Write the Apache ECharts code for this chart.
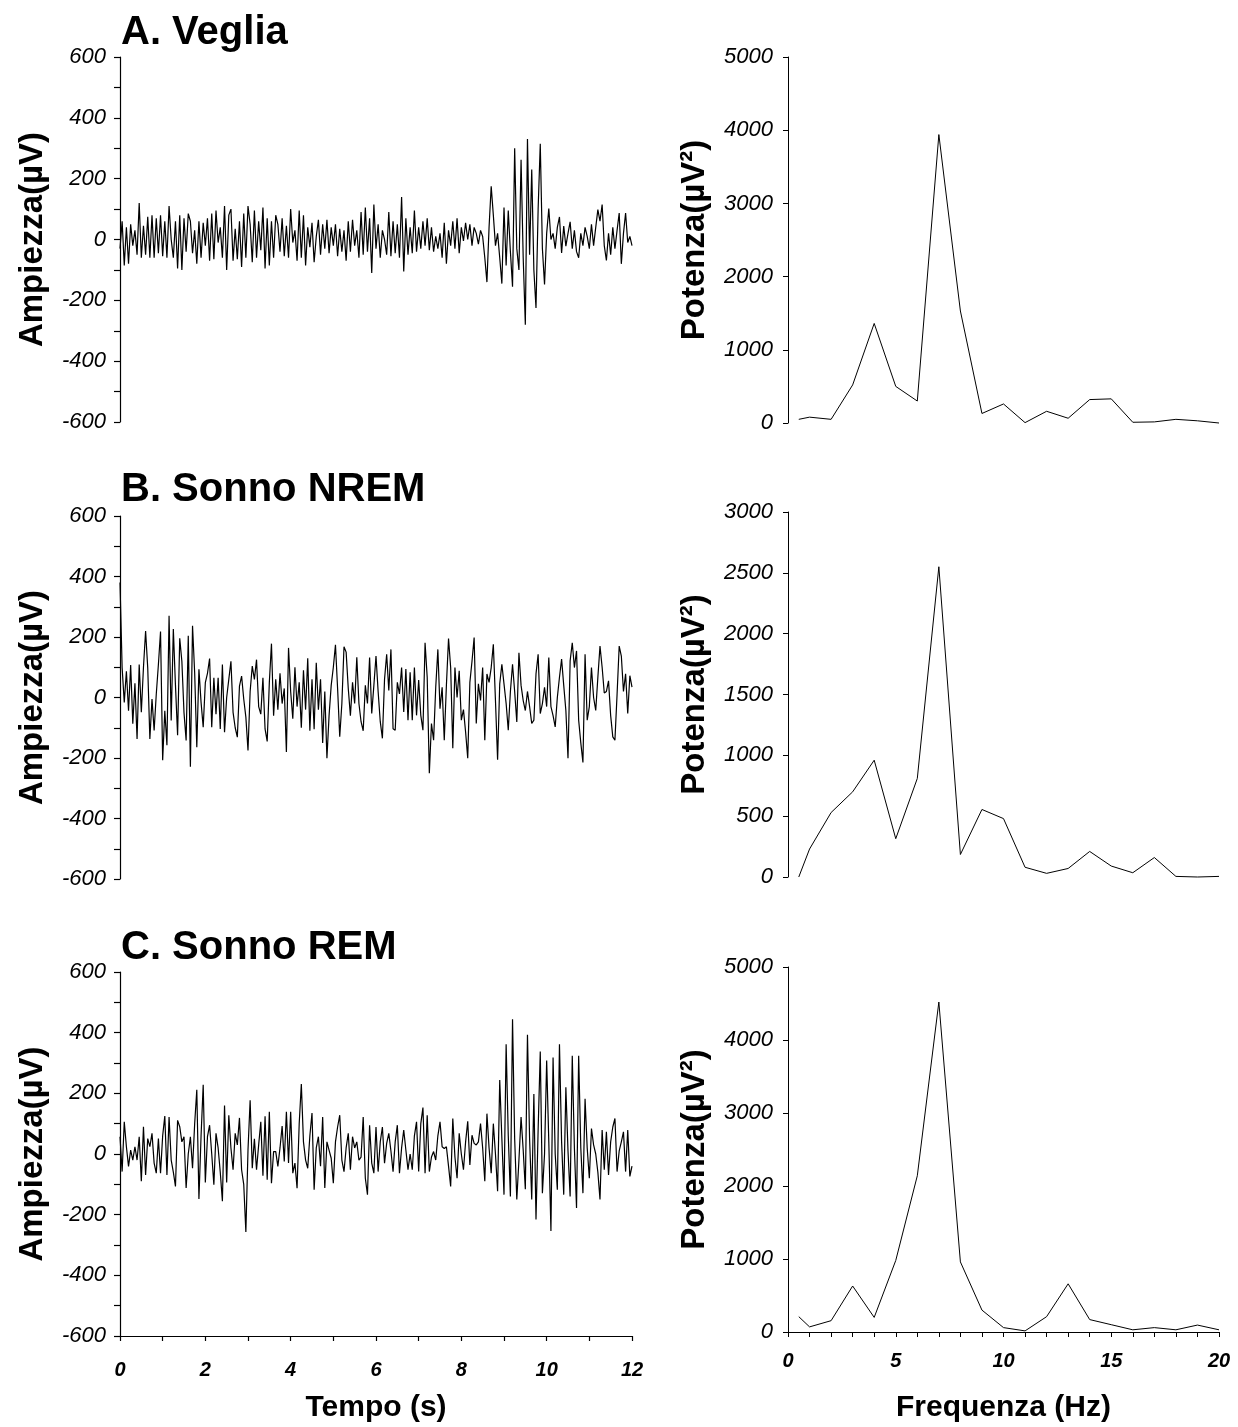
<!DOCTYPE html>
<html>
<head>
<meta charset="utf-8">
<title>EEG: Veglia, Sonno NREM, Sonno REM</title>
<script src="https://cdn.jsdelivr.net/npm/echarts@6/dist/echarts.min.js"></script>
<style>
  html, body { margin: 0; padding: 0; background: #fff; }
  #chart { width: 1238px; height: 1427px; }
</style>
</head>
<body>
<div id="chart"></div>
<script>
// EEG traces: one sample every 0.05 s, from 0 to 12 s (µV)
const sampleStep = 0.05;

const wakeTrace = [
  -30, 60, -85, 40, -80, 50, -20, 30, -50, 120, -60, 45, -50, 75, -60, 80, -60, 70, -45, 80,
  -55, 60, -60, 110, 0, -60, 60, -95, 80, -100, 70, -40, 85, 60, -45, 30, -80, 60, -60, 55,
  -20, 70, -70, 85, -65, 95, -10, 40, -60, 110, -100, 80, 100, -70, 35, -65, 60, -90, 85, -60,
  110, 50, -75, 95, -60, 60, -35, 105, -95, 70, -85, 60, -60, 80, 50, -40, 70, -55, 45, -60,
  100, -10, 30, -70, 95, -60, 80, -85, 40, -25, 55, -75, 10, 65, -50, 50, -30, 65, -45, 40,
  -20, 50, -55, 35, -40, 30, -70, 60, -40, 65, -20, 30, -60, 90, -50, 105, -40, 70, -110, 115,
  -30, 50, -60, 30, 0, -50, 90, -55, 60, -45, 50, -60, 140, -105, 70, -50, 40, -45, 95, -40,
  40, -30, 60, -20, 70, -35, 40, -40, 10, -30, 20, -60, 55, -80, 30, -20, 60, -30, 70, -45,
  40, -5, 55, 0, 50, -20, 40, 20, -15, 30, 10, -60, -140, 40, 175, 80, -20, 20, -60, -145,
  105, -85, 95, -40, -155, 300, -30, -100, 262, -60, -280, 330, -50, 230, -100, -225, 100, 315, -30, -148,
  20, 102, 0, 20, -30, 40, 74, -44, 44, -22, 20, 58, -30, 30, -40, -60, 20, -20, 40, 10,
  -30, 50, -20, 40, 98, 60, 115, -20, -69, 20, -50, 40, -30, 30, 87, -80, 20, 87, -10, 10,
  -20
];

const nremTrace = [
  380, 98, -16, 87, -44, 107, -87, 47, -137, 109, -49, 100, 220, 98, -137, -5, -109, 11, 109, 218,
  -207, -44, -158, 270, -76, 226, 40, -125, 196, 120, -50, -142, 204, -229, 237, 82, -164, 93, -16, -98,
  49, 80, 129, -98, 65, -55, 65, -104, 109, -115, 0, 60, 120, -49, -100, -131, 38, 71, -5, -65,
  -175, 20, 104, 60, 125, -30, -55, 65, -104, -145, 50, 178, -60, 60, -40, 80, -20, 30, -180, 164,
  20, -70, 100, -30, 50, -100, 90, -40, 130, -110, 60, -105, 115, -40, 60, -150, 20, -201, -60, 40,
  100, 174, 30, -130, -20, 168, 150, 30, -60, 50, -20, 133, -20, -80, -110, 40, -20, 132, -53, 40,
  137, 20, -80, -135, 60, 143, 23, 159, -103, -108, 50, 12, 99, -48, 94, -75, 83, -75, 99, -59,
  58, -59, -108, 181, 67, -250, -86, -141, 34, 159, -37, 34, -141, 40, 195, 99, -168, 99, 0, 88,
  -75, -40, -114, -201, 50, 120, 198, -86, 45, -10, 99, -141, 78, 50, 99, 176, -10, -206, 45, 110,
  45, -20, -108, 20, 110, 20, -81, 148, 40, -10, -43, 20, -30, -86, -75, 78, 143, -53, -20, 34,
  -30, 132, -30, -60, -97, 0, 67, 127, 40, -43, -201, 121, 181, 99, 154, -75, -150, -215, 143, -75,
  -30, 99, 0, -43, 67, 170, 100, 15, 20, 55, -60, -130, -141, 10, 170, 137, 20, 78, -53, 72,
  34
];

const remTrace = [
  57, -58, 106, 24, -41, 13, -20, 24, -20, 57, -90, 90, -69, 51, 24, 68, -30, -63, 51, -63,
  60, 125, -69, 122, -20, -60, -107, 111, 90, 40, 57, -112, 0, 57, -47, 100, 212, -148, 60, 228,
  -94, 57, 95, 0, -101, 68, 20, -60, -156, 160, -94, 128, 20, -52, 68, 30, 119, -52, -100, -257,
  13, 177, -47, 50, -52, 30, 106, -72, 124, -85, 139, -96, 8, 8, -41, 20, 92, -25, 139, -30,
  139, -63, -30, -113, 100, 231, 40, -20, -47, 60, 135, -118, 20, 57, -40, 122, -112, 40, 13, -14,
  -96, 40, 89, 128, -20, -58, 20, 68, -52, 57, 20, 40, -20, -10, 122, -80, -134, 95, -30, -63,
  89, -58, 40, 89, -30, 35, 68, 10, -58, 40, 95, -63, 20, 79, 13, -52, 0, -52, 60, 106,
  -58, 100, 153, -63, 128, -58, -10, 8, -20, 60, 106, 24, 18, 24, -40, -107, 117, -10, -80, 68,
  0, -52, 40, 108, -36, 62, 35, 30, 40, 100, 20, -90, 133, 20, -63, 100, 0, -123, 244, 50,
  -134, 362, 60, -140, 444, 50, -150, -20, 122, 13, -116, 393, 50, -150, 198, -216, 80, 338, -129, 0,
  308, 40, -254, 318, 0, -118, 362, 40, -134, 220, 10, -140, 324, 20, -178, 324, 20, -129, 182, 20,
  -80, 84, 30, 0, -60, -150, 79, -52, 73, -69, 40, 89, 117, -58, 10, 40, 73, -58, 79, -74,
  -40
];

// Power spectra (µV²) at each frequency bin (Hz)
const freqBins = [0.5, 1, 2, 3, 4, 5, 6, 7, 8, 9, 10, 11, 12, 13, 14, 15, 16, 17, 18, 19, 20];
const wakePower = [50, 80, 50, 520, 1360, 500, 300, 3940, 1530, 130, 260, 5, 160, 65, 320, 330, 10, 15, 50, 30, 0];
const nremPower = [0, 230, 530, 700, 960, 315, 810, 2550, 185, 555, 480, 80, 30, 70, 210, 90, 35, 160, 5, 0, 5];
const remPower = [210, 70, 155, 630, 200, 980, 2140, 4520, 960, 300, 60, 15, 210, 660, 170, 100, 30, 60, 30, 95, 30];

// Axis tick values
const timeTicks = { min: 0, max: 12, step: 2 };
const ampTicks = { min: -600, max: 600, step: 200 };
const freqTicks = { min: 0, max: 20, step: 5 };
const powerTicksA = { min: 0, max: 5000, step: 1000 };
const powerTicksB = { min: 0, max: 3000, step: 500 };
const powerTicksC = { min: 0, max: 5000, step: 1000 };

const panelTitles = ['A. Veglia', 'B. Sonno NREM', 'C. Sonno REM'];

const FONT = '"Liberation Sans", Arial, Helvetica, sans-serif';
const INK = '#000';
const plain = v => String(v);

function toPairs(values, step) {
  return values.map((v, i) => [+(i * step).toFixed(2), v]);
}

const grids = [
  { left: 120, top: 57, width: 512, height: 365 },
  { left: 120, top: 516, width: 512, height: 363 },
  { left: 120, top: 972, width: 512, height: 364 },
  { left: 788, top: 57, width: 431, height: 366 },
  { left: 788, top: 512, width: 431, height: 365 },
  { left: 788, top: 967, width: 431, height: 365 }
];

function timeAxis(gridIndex, visible) {
  return {
    type: 'value', gridIndex, min: timeTicks.min, max: timeTicks.max, interval: timeTicks.step,
    show: visible,
    axisLine: { show: true, onZero: false, lineStyle: { color: INK, width: 1.2 } },
    axisTick: { show: true, inside: false, length: 5, lineStyle: { color: INK, width: 1.2 } },
    minorTick: { show: true, splitNumber: 2, length: 5, lineStyle: { color: INK, width: 1.2 } },
    splitLine: { show: false },
    axisLabel: { margin: 24, formatter: plain, fontFamily: FONT, fontSize: 20, fontWeight: 'bold', fontStyle: 'italic', color: INK },
    name: visible ? 'Tempo (s)' : '',
    nameLocation: 'middle', nameGap: 57,
    nameTextStyle: { fontFamily: FONT, fontSize: 30, fontWeight: 'bold', color: INK }
  };
}

function freqAxis(gridIndex, visible) {
  return {
    type: 'value', gridIndex, min: freqTicks.min, max: freqTicks.max, interval: freqTicks.step,
    show: visible,
    axisLine: { show: true, onZero: false, lineStyle: { color: INK, width: 1.2 } },
    axisTick: { show: true, inside: false, length: 5, lineStyle: { color: INK, width: 1 } },
    minorTick: { show: true, splitNumber: 5, length: 5, lineStyle: { color: INK, width: 1 } },
    splitLine: { show: false },
    axisLabel: { margin: 19, formatter: plain, fontFamily: FONT, fontSize: 20, fontWeight: 'bold', fontStyle: 'italic', color: INK },
    name: visible ? 'Frequenza (Hz)' : '',
    nameLocation: 'middle', nameGap: 61,
    nameTextStyle: { fontFamily: FONT, fontSize: 30, fontWeight: 'bold', color: INK }
  };
}

function ampAxis(gridIndex) {
  return {
    type: 'value', gridIndex, min: ampTicks.min, max: ampTicks.max, interval: ampTicks.step,
    axisLine: { show: true, onZero: false, lineStyle: { color: INK, width: 1.2 } },
    axisTick: { show: true, inside: false, length: 6, lineStyle: { color: INK, width: 1.2 } },
    minorTick: { show: true, splitNumber: 2, length: 6, lineStyle: { color: INK, width: 1.2 } },
    splitLine: { show: false },
    axisLabel: { margin: 14, formatter: plain, fontFamily: FONT, fontSize: 22, fontStyle: 'italic', color: INK },
    name: 'Ampiezza(µV)', nameLocation: 'middle', nameGap: 71, nameRotate: 90,
    nameTextStyle: { fontFamily: FONT, fontSize: 33, fontWeight: 'bold', color: INK }
  };
}

function powerAxis(gridIndex, ticks) {
  return {
    type: 'value', gridIndex, min: ticks.min, max: ticks.max, interval: ticks.step,
    axisLine: { show: true, onZero: false, lineStyle: { color: INK, width: 1 } },
    axisTick: { show: true, inside: false, length: 5, lineStyle: { color: INK, width: 1 } },
    splitLine: { show: false },
    axisLabel: { margin: 15, formatter: plain, fontFamily: FONT, fontSize: 22, fontStyle: 'italic', color: INK },
    name: 'Potenza(µV²)', nameLocation: 'middle', nameGap: 77, nameRotate: 90,
    nameTextStyle: { fontFamily: FONT, fontSize: 33, fontWeight: 'bold', color: INK }
  };
}

function lineSeries(axisIndex, data, width) {
  return {
    type: 'line', xAxisIndex: axisIndex, yAxisIndex: axisIndex, data,
    showSymbol: false, symbol: 'none', smooth: false, silent: true,
    lineStyle: { color: INK, width }, clip: false
  };
}

const titleY = [35, 492, 950];

const option = {
  animation: false,
  backgroundColor: '#fff',
  grid: grids,
  xAxis: [
    timeAxis(0, false), timeAxis(1, false), timeAxis(2, true),
    freqAxis(3, false), freqAxis(4, false), freqAxis(5, true)
  ],
  yAxis: [
    ampAxis(0), ampAxis(1), ampAxis(2),
    powerAxis(3, powerTicksA), powerAxis(4, powerTicksB), powerAxis(5, powerTicksC)
  ],
  series: [
    lineSeries(0, toPairs(wakeTrace, sampleStep), 1.2),
    lineSeries(1, toPairs(nremTrace, sampleStep), 1.2),
    lineSeries(2, toPairs(remTrace, sampleStep), 1.2),
    lineSeries(3, freqBins.map((f, i) => [f, wakePower[i]]), 1),
    lineSeries(4, freqBins.map((f, i) => [f, nremPower[i]]), 1),
    lineSeries(5, freqBins.map((f, i) => [f, remPower[i]]), 1)
  ],
  graphic: panelTitles.map((t, i) => ({
    type: 'text', left: 121, top: titleY[i] - 22, silent: true,
    style: { text: t, font: 'bold 40px ' + FONT, fill: INK }
  }))
};

const chart = echarts.init(document.getElementById('chart'), null, { renderer: 'canvas', width: 1238, height: 1427 });
chart.setOption(option);
</script>
</body>
</html>
